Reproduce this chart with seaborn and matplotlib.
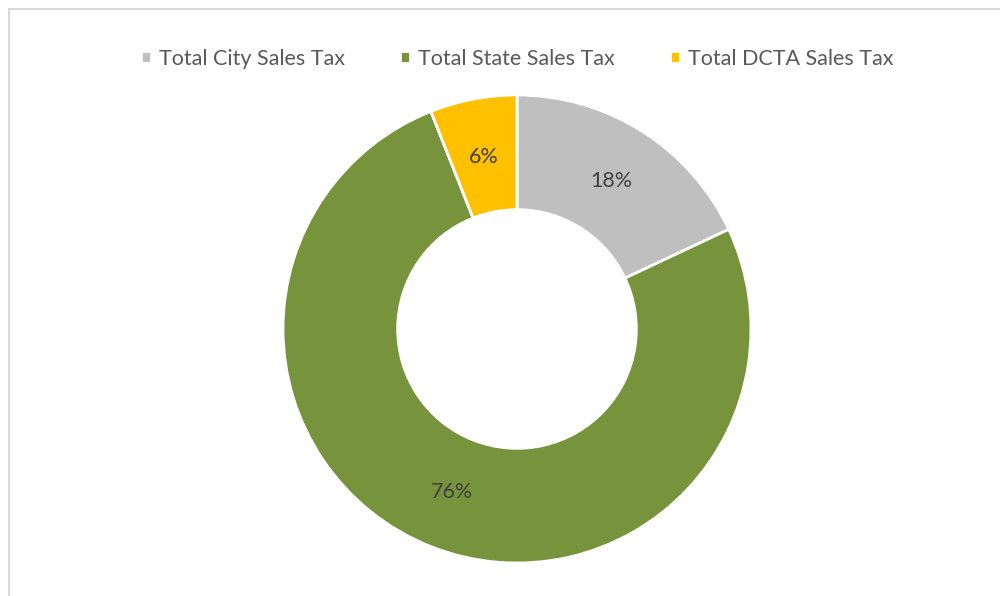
import matplotlib.pyplot as plt
import seaborn as sns

sns.set_theme(style="white")
plt.rcParams['font.family'] = ['Lato', 'DejaVu Sans']

# Datos del gráfico
categorias = ['Total City Sales Tax', 'Total State Sales Tax', 'Total DCTA Sales Tax']
valores = [18, 76, 6]
colores = ['#BFBFBF', '#77933C', '#FFC000']

fig = plt.figure(figsize=(10, 5.96), dpi=100)
ax = fig.add_axes([0, 0, 1, 1])

# Borde del área del gráfico
ax.add_patch(plt.Rectangle((8.5, -5), 1000, 592.5, fill=False,
                           edgecolor='#D9D9D9', linewidth=1.5))

wedges, textos, autotextos = ax.pie(
    valores, colors=colores, startangle=90, counterclock=False,
    center=(517, 267), radius=234, frame=True,
    wedgeprops=dict(width=0.49 * 234, edgecolor='white', linewidth=2),
    autopct='%1.0f%%', pctdistance=0.75,
    textprops=dict(color='#404040', fontsize=15.5))
ax.set_xlim(0, 1000)
ax.set_ylim(0, 596)
ax.axis('off')

ax.legend(wedges, categorias, loc='center', bbox_to_anchor=(0.517, 1 - 59 / 596),
          ncol=3, frameon=False, fontsize=15.5, labelcolor='#595959',
          handlelength=0.5, handleheight=0.5, handletextpad=0.35,
          columnspacing=2.55, bbox_transform=fig.transFigure)

fig.savefig('out.png', dpi=100)
